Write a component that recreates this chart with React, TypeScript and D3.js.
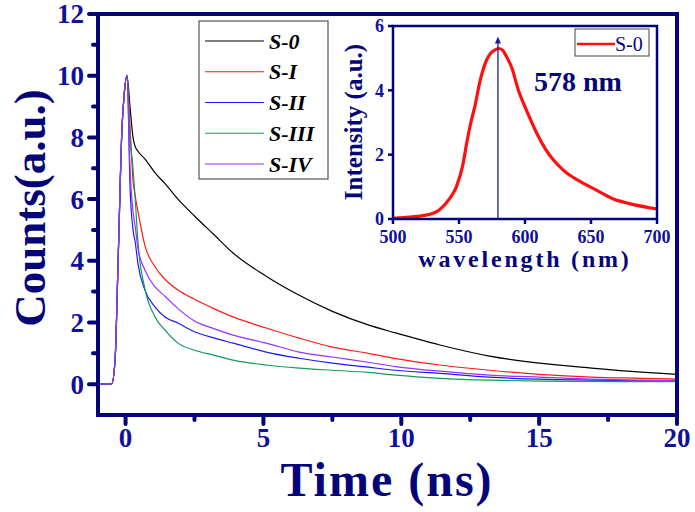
import React from 'react';
import * as d3 from 'd3';

// Decay curves (time in ns, counts in a.u.)
const timeNs = [-1, -0.5, -0.38, -0.27, -0.13, -0.05, 0.05, 0.17, 0.27, 0.35, 0.45, 0.7, 1.07, 1.43, 1.9, 2.5, 3.2, 3.9, 5.1, 6.3, 7.5, 8.8, 9.8, 11.4, 13.2, 15, 16.9, 18.7, 20];
const countsS0 = [0, 0.02, 0.8, 4.0, 8.3, 9.4, 10.0, 8.9, 8.0, 7.7, 7.55, 7.3, 6.85, 6.5, 6.0, 5.45, 4.85, 4.25, 3.5, 2.88, 2.36, 1.92, 1.66, 1.27, 0.91, 0.68, 0.52, 0.39, 0.32];
const countsS1 = [0, 0.02, 0.8, 4.0, 8.3, 9.4, 10.0, 8.2, 6.6, 6.1, 5.6, 4.5, 3.8, 3.4, 3.05, 2.75, 2.45, 2.18, 1.82, 1.49, 1.2, 1.0, 0.83, 0.62, 0.45, 0.32, 0.23, 0.19, 0.16];
const countsS2 = [0, 0.02, 0.8, 4.0, 8.3, 9.4, 10.0, 6.2, 5.0, 4.6, 3.9, 3.05, 2.5, 2.18, 1.98, 1.7, 1.5, 1.33, 1.04, 0.84, 0.68, 0.55, 0.45, 0.35, 0.23, 0.16, 0.13, 0.11, 0.1];
const countsS3 = [0, 0.02, 0.8, 4.0, 8.3, 9.4, 10.0, 7.9, 7.0, 6.0, 4.6, 3.1, 2.18, 1.75, 1.33, 1.1, 0.94, 0.78, 0.62, 0.52, 0.45, 0.38, 0.29, 0.19, 0.13, 0.1, 0.09, 0.08, 0.08];
const countsS4 = [0, 0.02, 0.8, 4.0, 8.3, 9.4, 10.0, 6.8, 5.6, 5.1, 4.4, 3.7, 3.15, 2.85, 2.45, 2.05, 1.8, 1.59, 1.33, 1.04, 0.88, 0.71, 0.57, 0.42, 0.29, 0.23, 0.16, 0.13, 0.12];

const seriesNames = ['S-0', 'S-I', 'S-II', 'S-III', 'S-IV'];
const seriesColors = ['#000000', '#ff1a1a', '#1a1aff', '#119a5a', '#9b30ff'];
const seriesCounts = [countsS0, countsS1, countsS2, countsS3, countsS4];

const xTicks = [0, 5, 10, 15, 20];
const xMinor = [2.5, 7.5, 12.5, 17.5];
const yTicks = [0, 2, 4, 6, 8, 10, 12];
const yMinor = [1, 3, 5, 7, 9, 11];

// Inset: PL spectrum of S-0
const wavelength = [500, 525, 535, 543, 548, 553, 556, 559, 562, 566, 571, 574, 577, 580, 583, 586, 590, 595, 601, 609, 616, 629, 642, 654, 667, 680, 700];
const intensity = [0.02, 0.12, 0.28, 0.64, 1.0, 1.7, 2.4, 3.0, 3.5, 4.3, 4.95, 5.15, 5.25, 5.3, 5.25, 5.05, 4.7, 4.0, 3.39, 2.66, 2.14, 1.52, 1.16, 0.9, 0.62, 0.47, 0.31];
const arrowNm = 579.5;
const arrowTop = 5.67;
const insetXTicks = [500, 550, 600, 650, 700];
const insetYTicks = [0, 2, 4, 6];

const NAVY = '#05057a';
const TXT = '#10109a';
const FONT = '"Liberation Serif", "Times New Roman", serif';

export default function App() {
  const W = 695, H = 512;
  const x = d3.scaleLinear().domain([-1, 20]).range([98, 677]);
  const y = d3.scaleLinear().domain([-1, 12]).range([415, 14]);

  const line = d3.line<[number, number]>()
    .x(d => x(d[0]))
    .y(d => y(d[1]))
    .curve(d3.curveMonotoneX);

  const ix = d3.scaleLinear().domain([500, 700]).range([393, 657]);
  const iy = d3.scaleLinear().domain([0, 6]).range([219, 26]);
  const iline = d3.line<[number, number]>()
    .x(d => ix(d[0]))
    .y(d => iy(d[1]))
    .curve(d3.curveMonotoneX);

  const legendY = d3.scaleLinear().domain([0, 4]).range([41, 164]);
  const ax = ix(arrowNm), at = iy(arrowTop);

  return (
    <svg width={W} height={H} style={{ position: 'absolute', left: 0, top: 0, background: '#fff' }}
      fontFamily={FONT}>
      {/* main curves */}
      {seriesCounts.map((vals, i) => (
        <path key={i} d={line(timeNs.map((t, j) => [t, vals[j]] as [number, number])) || ''}
          fill="none" stroke={seriesColors[i]} strokeWidth={1.2} />
      ))}

      {/* main frame */}
      <rect x={98} y={14} width={579} height={401} fill="none" stroke={NAVY} strokeWidth={4} />

      {/* y ticks */}
      {yTicks.map(v => (
        <g key={'y' + v}>
          <line x1={98} x2={89} y1={y(v)} y2={y(v)} stroke={NAVY} strokeWidth={4} strokeLinecap="round" />
          <text x={84} y={y(v)} dy="0.35em" textAnchor="end" fontSize={27} fontWeight="bold" fill={TXT}>{v}</text>
        </g>
      ))}
      {yMinor.map(v => (
        <line key={'ym' + v} x1={98} x2={93} y1={y(v)} y2={y(v)} stroke={NAVY} strokeWidth={4} strokeLinecap="round" />
      ))}
      {/* x ticks */}
      {xTicks.map(v => (
        <g key={'x' + v}>
          <line x1={x(v)} x2={x(v)} y1={415} y2={424} stroke={NAVY} strokeWidth={4} strokeLinecap="round" />
          <text x={x(v)} y={447} textAnchor="middle" fontSize={27} fontWeight="bold" fill={TXT}>{v}</text>
        </g>
      ))}
      {xMinor.map(v => (
        <line key={'xm' + v} x1={x(v)} x2={x(v)} y1={415} y2={420} stroke={NAVY} strokeWidth={4} strokeLinecap="round" />
      ))}

      <text x={387} y={496} textAnchor="middle" fontSize={48} fontWeight="bold" fill={NAVY} letterSpacing={2}>Time (ns)</text>
      <text transform="translate(45,208) rotate(-90)" textAnchor="middle" fontSize={45} fontWeight="bold" fill={NAVY}>Counts(a.u.)</text>

      {/* main legend */}
      <rect x={199} y={21} width={129} height={158} fill="#fff" stroke="#333" strokeWidth={1} />
      {seriesNames.map((n, i) => (
        <g key={n}>
          <line x1={205} x2={264} y1={legendY(i)} y2={legendY(i)} stroke={seriesColors[i]} strokeWidth={1.2} />
          <text x={269} y={legendY(i)} dy="0.35em" fontSize={22} fontWeight="bold" fontStyle="italic" fill="#000">{n}</text>
        </g>
      ))}

      {/* inset */}
      <path d={iline(wavelength.map((w, j) => [w, intensity[j]] as [number, number])) || ''}
        fill="none" stroke="#ff1010" strokeWidth={3.2} />
      <line x1={ax} x2={ax} y1={iy(0)} y2={at + 4} stroke="#1c1c9a" strokeWidth={1.3} />
      <path d={`M${ax},${at} L${ax - 3},${at + 7} L${ax + 3},${at + 7} Z`} fill="#1c1c9a" />
      <rect x={393} y={26} width={264} height={193} fill="none" stroke={NAVY} strokeWidth={2.5} />
      {insetYTicks.map(v => (
        <g key={'iy' + v}>
          <line x1={393} x2={388} y1={iy(v)} y2={iy(v)} stroke={NAVY} strokeWidth={2.5} />
          <text x={384} y={iy(v)} dy="0.35em" textAnchor="end" fontSize={18} fontWeight="bold" fill={TXT}>{v}</text>
        </g>
      ))}
      {insetXTicks.map(v => (
        <g key={'ix' + v}>
          <line x1={ix(v)} x2={ix(v)} y1={219} y2={224} stroke={NAVY} strokeWidth={2.5} />
          <text x={ix(v)} y={243} textAnchor="middle" fontSize={18} fontWeight="bold" fill={TXT}>{v}</text>
        </g>
      ))}
      <text x={525} y={267} textAnchor="middle" fontSize={24} fontWeight="bold" fill={NAVY} letterSpacing={2.8}>wavelength (nm)</text>
      <text transform="translate(362,122) rotate(-90)" textAnchor="middle" fontSize={25} fontWeight="bold" fill={NAVY}>Intensity (a.u.)</text>
      <text x={534} y={91} fontSize={28} fontWeight="bold" fill={NAVY}>578 nm</text>

      {/* inset legend */}
      <rect x={575} y={29} width={74} height={27} fill="#fff" stroke="#444" strokeWidth={1} />
      <line x1={577} x2={615} y1={44} y2={44} stroke="#ff1010" strokeWidth={2.5} />
      <text x={615} y={44} dy="0.35em" fontSize={20} fill={NAVY}>S-0</text>
    </svg>
  );
}
